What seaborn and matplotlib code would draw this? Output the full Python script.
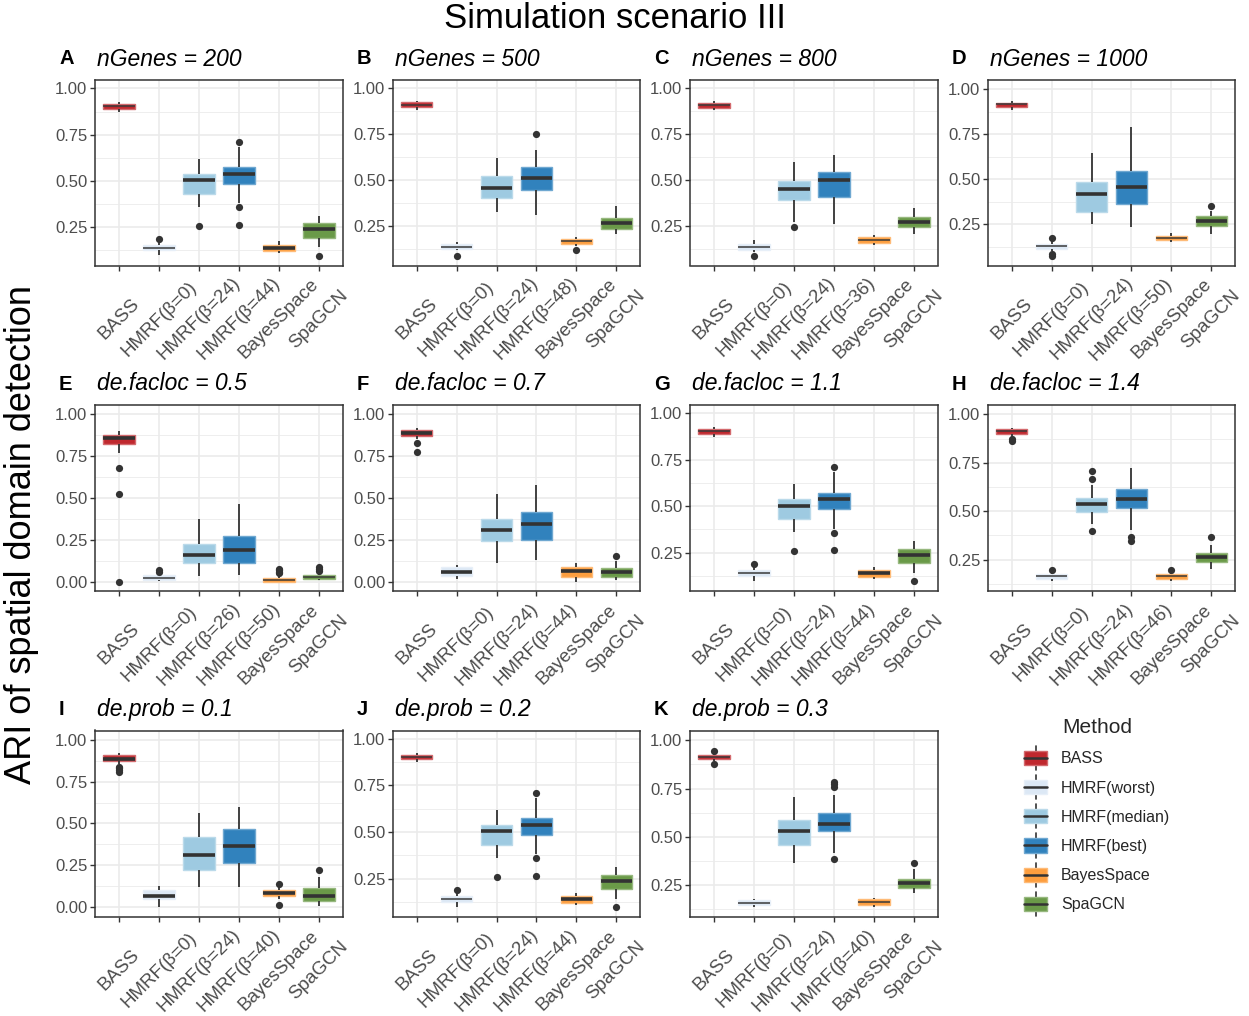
import numpy as np
import pandas as pd
import matplotlib
matplotlib.use("Agg")
import matplotlib.pyplot as plt
import matplotlib.colors as mcolors
from matplotlib.ticker import MultipleLocator, FixedLocator
from matplotlib.legend_handler import HandlerBase
from matplotlib.patches import Rectangle, Patch
from matplotlib.lines import Line2D
import seaborn as sns

# ---------------- data ----------------
methods = ["BASS", "HMRF(worst)", "HMRF(median)", "HMRF(best)", "BayesSpace", "SpaGCN"]
method_colors = ["#C0282E", "#DCE8F5", "#9ECAE1", "#3182BD", "#FD9E3E", "#6A9A48"]

panel_letters = ["A", "B", "C", "D", "E", "F", "G", "H", "I", "J", "K"]
panel_titles = ["nGenes = 200", "nGenes = 500", "nGenes = 800", "nGenes = 1000",
                "de.facloc = 0.5", "de.facloc = 0.7", "de.facloc = 1.1", "de.facloc = 1.4",
                "de.prob = 0.1", "de.prob = 0.2", "de.prob = 0.3"]
# beta of HMRF(worst), HMRF(median), HMRF(best) per panel
hmrf_betas = [[0, 24, 44], [0, 24, 48], [0, 24, 36], [0, 24, 50],
              [0, 26, 50], [0, 24, 44], [0, 24, 44], [0, 24, 46],
              [0, 24, 40], [0, 24, 44], [0, 24, 40]]

# five-number summaries per method: [lower whisker, Q1, median, Q3, upper whisker]
box_A = [[0.875, 0.890, 0.904, 0.916, 0.925], [0.100, 0.125, 0.140, 0.155, 0.172],
         [0.362, 0.432, 0.503, 0.537, 0.619], [0.380, 0.485, 0.537, 0.574, 0.684],
         [0.109, 0.121, 0.140, 0.157, 0.174], [0.142, 0.194, 0.239, 0.271, 0.313]]
out_A = [[], [0.189], [0.257], [0.711, 0.358, 0.265], [], [0.096]]

box_B = [[0.882, 0.895, 0.911, 0.925, 0.929], [0.120, 0.128, 0.141, 0.155, 0.168],
         [0.330, 0.405, 0.461, 0.521, 0.622], [0.314, 0.445, 0.510, 0.570, 0.662],
         [0.145, 0.153, 0.170, 0.184, 0.192], [0.208, 0.238, 0.268, 0.298, 0.363]]
out_B = [[], [0.092], [], [0.753], [0.121], []]

box_C = [[0.884, 0.892, 0.907, 0.918, 0.929], [0.110, 0.118, 0.134, 0.150, 0.172],
         [0.274, 0.391, 0.454, 0.494, 0.600], [0.259, 0.407, 0.501, 0.545, 0.637],
         [0.147, 0.157, 0.172, 0.187, 0.199], [0.205, 0.246, 0.272, 0.298, 0.345]]
out_C = [[], [0.088], [0.246], [], [], []]

box_D = [[0.884, 0.901, 0.915, 0.925, 0.932], [0.102, 0.113, 0.130, 0.142, 0.154],
         [0.252, 0.319, 0.418, 0.482, 0.647], [0.234, 0.362, 0.456, 0.543, 0.788],
         [0.150, 0.159, 0.173, 0.186, 0.198], [0.197, 0.242, 0.269, 0.293, 0.320]]
out_D = [[], [0.173, 0.086, 0.075], [], [], [], [0.353]]

box_E = [[0.767, 0.824, 0.857, 0.879, 0.902], [0.008, 0.012, 0.024, 0.039, 0.050],
         [0.036, 0.111, 0.159, 0.228, 0.378], [0.042, 0.115, 0.193, 0.274, 0.464],
         [0.000, 0.001, 0.010, 0.025, 0.046], [0.010, 0.015, 0.028, 0.041, 0.050]]
out_E = [[0.679, 0.524, 0.000], [0.074, 0.062], [], [], [0.080, 0.070, 0.060, 0.052],
         [0.090, 0.076, 0.066]]

box_F = [[0.853, 0.872, 0.890, 0.909, 0.916], [0.018, 0.037, 0.060, 0.089, 0.104],
         [0.116, 0.242, 0.311, 0.375, 0.522], [0.129, 0.250, 0.343, 0.417, 0.576],
         [0.000, 0.031, 0.064, 0.089, 0.114], [0.010, 0.027, 0.058, 0.083, 0.124]]
out_F = [[0.827, 0.773], [], [], [], [], [0.153]]

box_G = box_A
out_G = out_A

box_H = [[0.884, 0.899, 0.912, 0.925, 0.929], [0.138, 0.149, 0.164, 0.177, 0.186],
         [0.436, 0.494, 0.535, 0.568, 0.633], [0.402, 0.517, 0.562, 0.616, 0.721],
         [0.140, 0.149, 0.167, 0.177, 0.186], [0.203, 0.237, 0.264, 0.285, 0.328]]
out_H = [[0.872, 0.860], [0.198], [0.664, 0.707, 0.397], [0.369, 0.345], [0.198], [0.366]]

box_I = [[0.854, 0.871, 0.888, 0.907, 0.924], [0.000, 0.047, 0.068, 0.099, 0.124],
         [0.120, 0.221, 0.312, 0.417, 0.560], [0.120, 0.265, 0.362, 0.467, 0.600],
         [0.050, 0.067, 0.086, 0.103, 0.124], [0.006, 0.035, 0.068, 0.113, 0.180]]
out_I = [[0.840, 0.830, 0.820, 0.806], [], [], [], [0.140, 0.014], [0.224]]

box_J = box_A
out_J = out_A

box_K = [[0.891, 0.901, 0.914, 0.925, 0.931], [0.138, 0.148, 0.160, 0.175, 0.181],
         [0.366, 0.458, 0.528, 0.589, 0.707], [0.417, 0.530, 0.567, 0.623, 0.716],
         [0.138, 0.148, 0.162, 0.177, 0.185], [0.208, 0.237, 0.261, 0.285, 0.336]]
out_K = [[0.943, 0.878], [], [], [0.784, 0.771, 0.757, 0.388], [], [0.366]]

boxes = [box_A, box_B, box_C, box_D, box_E, box_F, box_G, box_H, box_I, box_J, box_K]
outliers = [out_A, out_B, out_C, out_D, out_E, out_F, out_G, out_H, out_I, out_J, out_K]

# y-axis ranges per panel
ylims = [(0.044, 1.045), (0.038, 1.044), (0.034, 1.046), (0.020, 1.050),
         (-0.054, 1.056), (-0.054, 1.056), (0.044, 1.045), (0.088, 1.048),
         (-0.060, 1.056), (0.044, 1.045), (0.086, 1.050)]

# ---------------- build tables ----------------
rows_box, rows_out = [], []
for p, (bx, ot, betas) in enumerate(zip(boxes, outliers, hmrf_betas)):
    labels = ["BASS"] + [f"HMRF(\u03b2={b})" for b in betas] + ["BayesSpace", "SpaGCN"]
    for m, lab, vals, ovals in zip(methods, labels, bx, ot):
        for v in vals:
            rows_box.append((p, m, lab, v))
        for v in ovals:
            rows_out.append((p, m, lab, v))
df_box = pd.DataFrame(rows_box, columns=["panel", "method", "label", "value"])
df_out = pd.DataFrame(rows_out, columns=["panel", "method", "label", "value"])

# ---------------- figure ----------------
sns.set_theme(style="white")
plt.rcParams["font.family"] = ["Liberation Sans", "DejaVu Sans"]

W, H = 1249, 1016
fig = plt.figure(figsize=(W / 100, H / 100), dpi=100)

cols_px = [(95, 343), (393, 640), (690, 938), (988, 1235)]
rows_px = [(80, 265.5), (405, 591), (730.5, 917)]
palette = dict(zip(methods, method_colors))
dark = "#333333"


def lighten(c, amt=0.35):
    r, g, b = mcolors.to_rgb(c)
    return (r + (1 - r) * amt, g + (1 - g) * amt, b + (1 - b) * amt)


for p in range(11):
    r, c = divmod(p, 4)
    l, rr = cols_px[c]
    t, b = rows_px[r]
    ax = fig.add_axes([l / W, 1 - b / H, (rr - l) / W, (b - t) / H])
    betas = hmrf_betas[p]
    labels = ["BASS"] + [f"HMRF(\u03b2={x})" for x in betas] + ["BayesSpace", "SpaGCN"]
    d = df_box[df_box.panel == p]
    o = df_out[df_out.panel == p]
    sns.boxplot(data=d, x="label", y="value", hue="method", order=labels,
                hue_order=methods, palette=palette, dodge=False, width=0.78,
                whis=(0, 100), showcaps=False, linecolor=dark, linewidth=1.3,
                medianprops=dict(color=dark, linewidth=2.6, solid_capstyle="butt"),
                legend=False, saturation=1, ax=ax, zorder=2)
    for patch in ax.patches:
        fc = patch.get_facecolor()
        patch.set_edgecolor(lighten(fc, 0.3))
        patch.set_linewidth(1.0)
    # very short boxes show a thin median bar in the reference
    for ln in ax.lines:
        xd, yd = np.asarray(ln.get_xdata(), float), np.asarray(ln.get_ydata(), float)
        if len(xd) == 2 and yd[0] == yd[1] and abs(xd[1] - xd[0]) > 0.5:
            k = int(round(xd.mean()))
            iqr = boxes[p][k][3] - boxes[p][k][1]
            if iqr < 0.034:
                ln.set_linewidth(1.1)
                ln.set_color("#3a3a3a")
    sns.stripplot(data=o, x="label", y="value", order=labels, color=dark,
                  jitter=False, size=5.2, linewidth=0, ax=ax, zorder=4)

    ax.set_xlim(-0.6, 5.6)
    ax.set_ylim(*ylims[p])
    ylo, yhi = ylims[p]
    ticks = [v for v in [0.0, 0.25, 0.5, 0.75, 1.0] if ylo <= v <= yhi]
    ax.yaxis.set_major_locator(FixedLocator(ticks))
    ax.set_yticklabels([f"{v:.2f}" for v in ticks])
    ax.yaxis.set_minor_locator(MultipleLocator(0.125))
    ax.set_axisbelow(True)
    ax.grid(True, which="major", color="#EBEBEB", linewidth=1.2)
    ax.grid(True, which="minor", axis="y", color="#EBEBEB", linewidth=0.6)
    for s in ax.spines.values():
        s.set_color(dark)
        s.set_linewidth(1.1)
    ax.tick_params(axis="both", which="major", direction="out", length=3.5, width=1.0,
                   color=dark, labelcolor="#4D4D4D", bottom=True, left=True)
    ax.tick_params(axis="both", which="minor", length=0)
    ax.tick_params(axis="y", labelsize=12, pad=2)
    ax.tick_params(axis="x", labelsize=13.5, pad=35)
    for lab in ax.get_xticklabels():
        lab.set_rotation(45)
        lab.set_ha("center")
        lab.set_va("center")
    ax.set_xlabel("")
    ax.set_ylabel("")

    ty = 1 - (t - 21) / H
    fig.text((l - 36) / W, ty, panel_letters[p], fontsize=14.5, fontweight="bold",
             ha="left", va="center", color="black")
    fig.text((l + 2) / W, ty, panel_titles[p], fontsize=16.5, fontstyle="italic",
             ha="left", va="center", color="black")

fig.text(615 / W, 1 - 18 / H, "Simulation scenario III", fontsize=25, ha="center",
         va="center", color="black")
fig.text(22 / W, 1 - 535 / H, "ARI of spatial domain detection", fontsize=26,
         rotation=90, ha="center", va="center", color="black")


# ---------------- legend ----------------
class BoxHandler(HandlerBase):
    def create_artists(self, legend, orig_handle, xdescent, ydescent, width, height,
                       fontsize, trans):
        fc = orig_handle.get_facecolor()
        x0, y0 = -xdescent, -ydescent
        cx = x0 + width / 2
        wl = Line2D([cx, cx], [y0 - height * 0.35, y0 + height * 1.35], color=dark,
                    lw=1.2, transform=trans)
        rect = Rectangle((x0, y0), width, height, facecolor=fc,
                         edgecolor=lighten(fc, 0.3), lw=1.0, transform=trans)
        med = Line2D([x0, x0 + width], [y0 + height / 2] * 2, color=dark, lw=1.8,
                     transform=trans)
        return [wl, rect, med]


handles = [Patch(facecolor=c, label=m) for m, c in zip(methods, method_colors)]
leg = fig.legend(handles=handles, labels=methods, title="Method",
                 handler_map={Patch: BoxHandler()}, loc="upper left",
                 bbox_to_anchor=(1013 / W, 1 - 707 / H), frameon=False, fontsize=11.5,
                 title_fontsize=15, handlelength=1.45, handleheight=1.0,
                 labelspacing=0.85, handletextpad=0.85, borderpad=0.2)

fig.savefig("out.png", dpi=100)
